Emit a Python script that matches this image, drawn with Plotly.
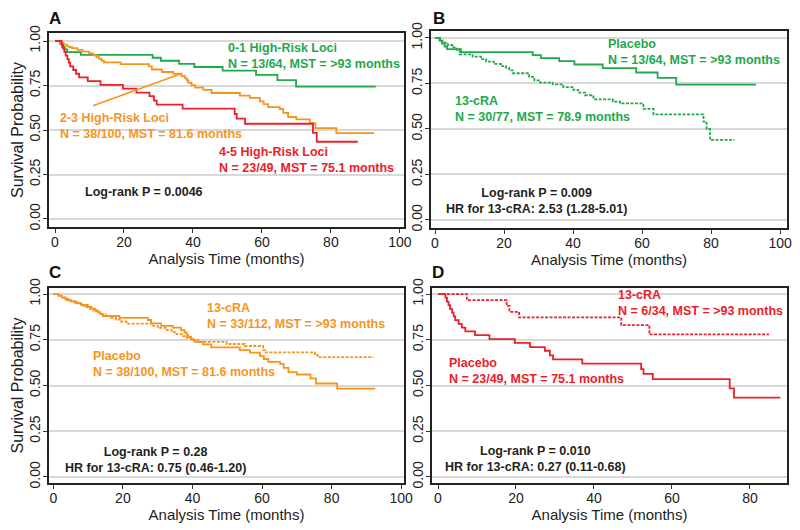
import plotly.graph_objects as go

# ---------------- data ----------------
# 0-1 high-risk loci (== Placebo in panel B): 13/64
lo_t = [1.5, 2.0, 2.8, 3.5, 7.5, 28.3, 30.7, 36.0, 40.4, 48.6, 58.3, 64.5, 69.9]
lo_s = [0.984, 0.969, 0.953, 0.938, 0.922, 0.906, 0.889, 0.872, 0.854, 0.834, 0.810, 0.780, 0.744]
lo_end = 93.0

# 2-3 high-risk loci (== Placebo in panel C): 38/100
mid_t = [1.5, 2.5, 3.5, 4.2, 5.0, 6.5, 8.0, 9.9, 11.0, 12.0, 12.8, 13.5, 14.2, 19.0, 27.2, 28.1,
         31.0, 34.3, 36.7, 37.7, 38.3, 38.7, 39.6, 40.6, 43.0, 45.4, 53.6, 56.5, 59.4, 60.5,
         61.8, 65.2, 66.2, 67.6, 70.0, 73.9, 75.5, 81.6]
mid_s = [0.99, 0.98, 0.97, 0.965, 0.96, 0.95, 0.94, 0.93, 0.92, 0.91, 0.90, 0.89, 0.88, 0.87, 0.858, 0.84,
         0.826, 0.816, 0.803, 0.79, 0.778, 0.765, 0.752, 0.738, 0.725, 0.708, 0.693, 0.68, 0.661, 0.645,
         0.629, 0.618, 0.596, 0.573, 0.56, 0.539, 0.511, 0.483]
mid_end = 92.5

# 4-5 high-risk loci (== Placebo in panel D): 23/49
hi_t = [1.9, 2.3, 2.7, 3.1, 3.6, 4.0, 4.4, 5.3, 6.1, 7.0, 9.5, 13.2, 19.7, 23.6, 27.4, 28.7,
        29.5, 37.0, 52.1, 52.7, 55.1, 74.8, 75.9]
hi_s = [0.980, 0.959, 0.939, 0.918, 0.898, 0.878, 0.857, 0.837, 0.816, 0.796, 0.775, 0.753, 0.733,
        0.71, 0.69, 0.665, 0.643, 0.62, 0.59, 0.564, 0.535, 0.484, 0.434]
hi_end = 87.8

# Panel B: 13-cRA, 30/77
b_cra_t = [1.3, 2.2, 3.7, 5.0, 6.3, 7.1, 10.9, 13.3, 14.8, 17.0, 19.1, 20.6, 21.5, 22.5, 27.3,
           28.8, 30.5, 34.1, 37.2, 40.1, 41.5, 43.5, 45.9, 51.5, 53.6, 60.4, 63.3, 77.8, 78.7, 79.7]
b_cra_s = [0.987, 0.974, 0.961, 0.948, 0.935, 0.91, 0.897, 0.883, 0.870, 0.857, 0.845, 0.835, 0.822,
           0.806, 0.786, 0.767, 0.755, 0.745, 0.73, 0.715, 0.70, 0.685, 0.663, 0.65, 0.64, 0.61, 0.58,
           0.54, 0.50, 0.44]
b_cra_end = 86.8

# Panel C: 13-cRA, 33/112
c_cra_t = [1.5, 2.5, 3.5, 5.0, 6.0, 7.0, 8.5, 9.5, 10.5, 11.5, 12.5, 13.5, 15.0, 16.5, 18.0, 19.5,
           21.0, 28.7, 30.0, 32.6, 34.0, 35.4, 37.0, 38.3, 40.2, 42.1, 49.8, 55.0, 60.3, 61.0, 75.2, 76.0]
c_cra_s = [0.991, 0.982, 0.973, 0.964, 0.955, 0.946, 0.937, 0.928, 0.919, 0.910, 0.900, 0.890, 0.880,
           0.870, 0.860, 0.850, 0.838, 0.826, 0.815, 0.803, 0.792, 0.781, 0.770, 0.760, 0.749, 0.738,
           0.727, 0.716, 0.693, 0.681, 0.666, 0.655]
c_cra_end = 92.0

# Panel D: 13-cRA, 6/34
d_cra_t = [7.4, 17.6, 18.3, 20.8, 47.0, 54.2]
d_cra_s = [0.967, 0.935, 0.903, 0.872, 0.83, 0.779]
d_cra_end = 84.9

y_ticks = [0, 0.25, 0.5, 0.75, 1.0]
x_ticks_100 = [0, 20, 40, 60, 80, 100]
x_ticks_80 = [0, 20, 40, 60, 80]

GREEN = "#22a84b"
ORANGE = "#f7941d"
RED = "#ec2029"
BLACK = "#231f20"
FONT = "Liberation Sans, Arial, sans-serif"

# page body has an 8px default margin: draw a slightly smaller figure so that
# positions measured on the 800x530 window line up
OFF = 8
W, H = 800 - OFF, 530 - OFF


def km(t, s, end):
    return [0] + list(t) + [end], [1.0] + list(s) + [s[-1]]


fig = go.Figure()


def add_curve(t, s, end, color, ax, dash="solid"):
    x, y = km(t, s, end)
    fig.add_trace(go.Scatter(x=x, y=y, mode="lines", line_shape="hv",
                             line=dict(color=color, width=1.8, dash=dash),
                             xaxis="x" + ax, yaxis="y" + ax, showlegend=False,
                             hoverinfo="skip"))


DASH = "3px,1.5px"
# Panel A
add_curve(lo_t, lo_s, lo_end, GREEN, "")
add_curve(mid_t, mid_s, mid_end, ORANGE, "")
add_curve(hi_t, hi_s, hi_end, RED, "")
# Panel B
add_curve(lo_t, lo_s, lo_end, GREEN, "2")
add_curve(b_cra_t, b_cra_s, b_cra_end, GREEN, "2", DASH)
# Panel C
add_curve(mid_t, mid_s, mid_end, ORANGE, "3")
add_curve(c_cra_t, c_cra_s, c_cra_end, ORANGE, "3", DASH)
# Panel D
add_curve(hi_t, hi_s, hi_end, RED, "4")
add_curve(d_cra_t, d_cra_s, d_cra_end, RED, "4", DASH)


def px_x(x):
    return (x - OFF) / W


def px_y(y):
    return 1 - (y - OFF) / H


def xdom(l, r):
    return [px_x(l), px_x(r)]


def ydom(top, bot):
    return [px_y(bot), px_y(top)]


common_x = dict(showgrid=False, zeroline=False, showline=True, mirror=True,
                linecolor="#222222", linewidth=2, ticks="outside", ticklen=4,
                tickcolor="#333333", tickwidth=1, ticklabelstandoff=-3,
                tickfont=dict(family=FONT, size=14, color="#222222"),
                automargin=False,
                title=dict(text="Analysis Time (months)",
                           font=dict(family=FONT, size=15, color="#222222"), standoff=0))
common_y = dict(showgrid=True, gridcolor="#d9d9d9", gridwidth=1.5, zeroline=False,
                showline=True, mirror=True, linecolor="#222222", linewidth=2,
                ticks="outside", ticklen=4, tickcolor="#333333", tickwidth=1,
                ticklabelstandoff=-3,
                tickvals=y_ticks, tickformat=".2f", tickangle=-90,
                tickfont=dict(family=FONT, size=14, color="#222222"),
                automargin=False)
ytitle = dict(text="Survival Probability", font=dict(family=FONT, size=16, color="#222222"),
              standoff=0)

fig.update_layout(
    width=W, height=H, margin=dict(l=0, r=0, t=0, b=0),
    paper_bgcolor="white", plot_bgcolor="white", showlegend=False,
    xaxis=dict(common_x, domain=xdom(49, 404), range=[-1.74, 101.2], tickvals=x_ticks_100, anchor="y"),
    yaxis=dict(common_y, domain=ydom(33, 227), range=[-0.045, 1.045], anchor="x", title=ytitle),
    xaxis2=dict(common_x, domain=xdom(431, 787), range=[-1.16, 102.0], tickvals=x_ticks_100, anchor="y2"),
    yaxis2=dict(common_y, domain=ydom(31, 228), range=[-0.044, 1.038], anchor="x2"),
    xaxis3=dict(common_x, domain=xdom(49, 404), range=[-1.24, 100.8], tickvals=x_ticks_100, anchor="y3"),
    yaxis3=dict(common_y, domain=ydom(288, 483), range=[-0.033, 1.033], anchor="x3", title=ytitle),
    xaxis4=dict(common_x, domain=xdom(432, 787), range=[-1.54, 89.5], tickvals=x_ticks_80, anchor="y4"),
    yaxis4=dict(common_y, domain=ydom(288, 483), range=[-0.033, 1.033], anchor="x4"),
)

ann = []


def txt(ax, x, y, text, color, xanchor="left", align="left"):
    ann.append(dict(xref="x" + ax, yref="y" + ax, x=x, y=y, text=text, showarrow=False,
                    xanchor=xanchor, yanchor="middle", align=align,
                    font=dict(family=FONT, size=12.5, color=color)))


# Panel A
txt("", 49.6, 0.918, "<b>0-1 High-Risk Loci<br>N = 13/64, MST = >93 months</b>", GREEN)
txt("", 1.0, 0.525, "<b>2-3 High-Risk Loci<br>N = 38/100, MST = 81.6 months</b>", ORANGE)
txt("", 46.9, 0.333, "<b>4-5 High-Risk Loci<br>N = 23/49, MST = 75.1 months</b>", RED)
txt("", 8.2, 0.15, "<b>Log-rank P = 0.0046</b>", BLACK)
ann.append(dict(xref="x", yref="y", axref="x", ayref="y", x=36.5, y=0.816, ax=10.6, ay=0.633,
                text="", showarrow=True, arrowhead=0, arrowwidth=1.5, arrowcolor=ORANGE))
# Panel B
txt("2", 49.6, 0.921, "<b>Placebo<br>N = 13/64, MST = >93 months</b>", GREEN)
txt("2", 5.1, 0.612, "<b>13-cRA<br>N = 30/77, MST = 78.9 months</b>", GREEN)
txt("2", 29.4, 0.105, "<b>Log-rank P = 0.009<br>HR for 13-cRA: 2.53 (1.28-5.01)</b>", BLACK,
    xanchor="center", align="center")
# Panel C
txt("3", 43.7, 0.879, "<b>13-cRA<br>N = 33/112, MST = >93 months</b>", ORANGE)
txt("3", 10.8, 0.615, "<b>Placebo<br>N = 38/100, MST = 81.6 months</b>", ORANGE)
txt("3", 29.4, 0.092, "<b>Log-rank P = 0.28<br>HR for 13-cRA: 0.75 (0.46-1.20)</b>", BLACK,
    xanchor="center", align="center")
# Panel D
txt("4", 45.7, 0.953, "<b>13-cRA<br>N = 6/34, MST = >93 months</b>", RED)
txt("4", 2.35, 0.579, "<b>Placebo<br>N = 23/49, MST = 75.1 months</b>", RED)
txt("4", 25.1, 0.10, "<b>Log-rank P = 0.010<br>HR for 13-cRA: 0.27 (0.11-0.68)</b>", BLACK,
    xanchor="center", align="center")

# Panel letters
for lab, px, py in [("A", 48, 8), ("B", 432, 8), ("C", 48, 262), ("D", 431, 262)]:
    ann.append(dict(xref="paper", yref="paper", x=px_x(px), y=px_y(py), text="<b>" + lab + "</b>",
                    showarrow=False, xanchor="left", yanchor="top", borderpad=0,
                    font=dict(family=FONT, size=17, color="#111111")))

fig.update_layout(annotations=ann)
fig.write_html("out.html")
